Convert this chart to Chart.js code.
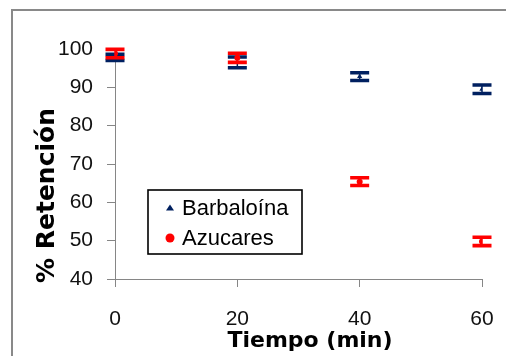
<!DOCTYPE html>
<html>
<head>
<meta charset="utf-8">
<script src="https://cdn.jsdelivr.net/npm/chart.js@4.4.0/dist/chart.umd.min.js"></script>
<style>
  html, body { margin: 0; padding: 0; background: #fff; }
  #wrap { position: relative; width: 506px; height: 356px; }
</style>
</head>
<body>
<div id="wrap"><canvas id="retencionChart" width="506" height="356"></canvas></div>
<script>
// valores
const tiempos = [0, 20, 40, 60];
const barbaloina = [97.8, 96.5, 92.8, 89.5];
const barbaloinaErr = [0.8, 1.4, 1.0, 1.1];
const azucares = [98.8, 97.7, 65.4, 49.8];
const azucaresErr = [1.1, 1.2, 1.0, 1.1];
const xTicks = [0, 20, 40, 60];
const yTicks = [40, 50, 60, 70, 80, 90, 100];

const NAVY = "#002060";
const RED = "#ff0000";
const AXIS_GRAY = "#868686";
const TICK_FONT = "'Liberation Sans', Arial, sans-serif";
const TITLE_FONT = "'DejaVu Sans', sans-serif";

// marco exterior (solo lados izquierdo y superior visibles)
const framePlugin = {
    id: "frame",
    beforeDraw(chart) {
        const ctx = chart.ctx;
        ctx.save();
        ctx.fillStyle = "#fff";
        ctx.fillRect(0, 0, chart.width, chart.height);
        ctx.strokeStyle = "#898989";
        ctx.lineWidth = 2;
        ctx.beginPath();
        ctx.moveTo(12, chart.height);
        ctx.lineTo(12, 10);
        ctx.lineTo(chart.width, 10);
        ctx.stroke();
        ctx.restore();
    }
};

// barras de error, dibujadas justo despues de cada serie
const errorBarsPlugin = {
    id: "errorBars",
    afterDatasetDraw(chart, args) {
        const ds = chart.data.datasets[args.index];
        if (!ds.errores) return;
        const xs = chart.scales.x, ys = chart.scales.y;
        const ctx = chart.ctx;
        ctx.save();
        ctx.strokeStyle = ds.borderColor;
        ds.data.forEach((p, i) => {
            const e = ds.errores[i];
            const px = xs.getPixelForValue(p.x);
            const top = ys.getPixelForValue(p.y + e);
            const bot = ys.getPixelForValue(p.y - e);
            ctx.lineWidth = 1.5;
            ctx.beginPath();
            ctx.moveTo(px, top);
            ctx.lineTo(px, bot);
            ctx.stroke();
            ctx.lineWidth = 3.6;
            ctx.beginPath();
            ctx.moveTo(px - 9.5, top);
            ctx.lineTo(px + 9.5, top);
            ctx.moveTo(px - 9.5, bot);
            ctx.lineTo(px + 9.5, bot);
            ctx.stroke();
        });
        ctx.restore();
    }
};

// leyenda con recuadro dentro del area del grafico
const boxLegendPlugin = {
    id: "boxLegend",
    afterDraw(chart) {
        const ctx = chart.ctx;
        ctx.save();
        ctx.fillStyle = "#fff";
        ctx.fillRect(148, 190, 154, 64);
        ctx.strokeStyle = "#000";
        ctx.lineWidth = 1.6;
        ctx.strokeRect(148, 190, 154, 64);
        const rows = [214.5, 245];
        chart.data.datasets.forEach((ds, i) => {
            const base = rows[i];
            ctx.fillStyle = ds.backgroundColor;
            ctx.beginPath();
            if (ds.pointStyle === "triangle") {
                ctx.moveTo(166, base - 4);
                ctx.lineTo(174, base - 4);
                ctx.lineTo(170, base - 10);
                ctx.closePath();
            } else {
                ctx.arc(170, base - 7, 4.5, 0, Math.PI * 2);
            }
            ctx.fill();
            ctx.fillStyle = "#000";
            ctx.font = "22px " + TICK_FONT;
            ctx.textBaseline = "alphabetic";
            ctx.textAlign = "left";
            ctx.fillText(ds.label, 182, base);
        });
        ctx.restore();
    }
};

// titulos de los ejes
const axisTitlesPlugin = {
    id: "axisTitles",
    afterDraw(chart) {
        const ctx = chart.ctx;
        ctx.save();
        ctx.fillStyle = "#000";
        ctx.textBaseline = "alphabetic";
        ctx.font = "bold 22px " + TITLE_FONT;
        ctx.textAlign = "center";
        ctx.fillText("Tiempo (min)", 310, 347);
        ctx.translate(54, 283);
        ctx.rotate(-Math.PI / 2);
        ctx.font = "bold 25px " + TITLE_FONT;
        ctx.textAlign = "left";
        ctx.fillText("% Retención", 0, 0);
        ctx.restore();
    }
};

function initChart() {
    const ctx = document.getElementById("retencionChart");
    new Chart(ctx, {
        type: "scatter",
        data: {
            datasets: [{
                label: "Barbaloína",
                data: tiempos.map((t, i) => ({ x: t, y: barbaloina[i] })),
                errores: barbaloinaErr,
                backgroundColor: NAVY,
                borderColor: NAVY,
                pointStyle: "triangle",
                pointRadius: 3,
                pointBorderWidth: 0,
                order: 2
            }, {
                label: "Azucares",
                data: tiempos.map((t, i) => ({ x: t, y: azucares[i] })),
                errores: azucaresErr,
                backgroundColor: RED,
                borderColor: RED,
                pointStyle: "circle",
                pointRadius: 3,
                pointBorderWidth: 0,
                order: 1
            }]
        },
        options: {
            responsive: false,
            animation: false,
            layout: { padding: { left: 0, top: 49, right: 24, bottom: 0 } },
            scales: {
                x: {
                    type: "linear",
                    min: 0,
                    max: 60,
                    afterBuildTicks: s => { s.ticks = xTicks.map(v => ({ value: v })); },
                    afterFit: s => {
                        s.height = 77;
                        s.paddingLeft = 0;
                        s.paddingRight = 0;
                    },
                    grid: { drawOnChartArea: false, drawTicks: true, tickLength: 8, color: AXIS_GRAY },
                    border: { color: AXIS_GRAY, width: 1 },
                    ticks: { padding: 20, color: "#111", font: { family: TICK_FONT, size: 21 } }
                },
                y: {
                    min: 40,
                    max: 100,
                    afterBuildTicks: s => { s.ticks = yTicks.map(v => ({ value: v })); },
                    afterFit: s => { s.width = 115; },
                    grid: { drawOnChartArea: false, drawTicks: true, tickLength: 8, color: AXIS_GRAY },
                    border: { color: AXIS_GRAY, width: 1 },
                    ticks: { padding: 14, color: "#111", font: { family: TICK_FONT, size: 21 } }
                }
            },
            plugins: {
                legend: { display: false },
                tooltip: { enabled: false }
            }
        },
        plugins: [framePlugin, errorBarsPlugin, boxLegendPlugin, axisTitlesPlugin]
    });
}

document.addEventListener("DOMContentLoaded", initChart);
</script>
</body>
</html>
